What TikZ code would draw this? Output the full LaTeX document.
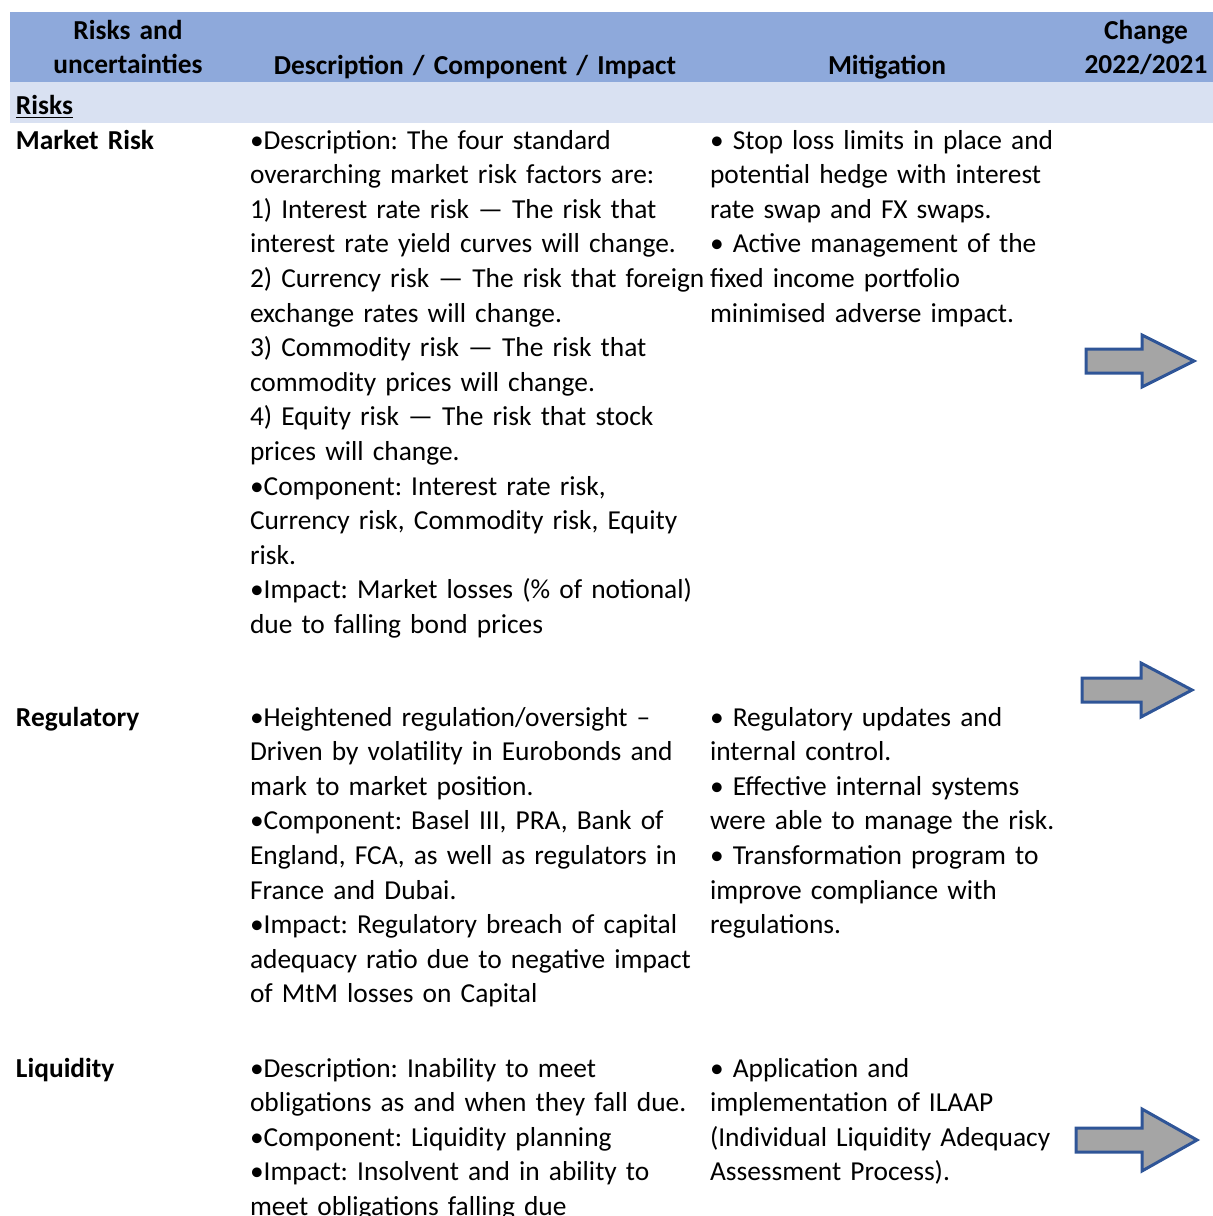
\documentclass[tikz,border=0pt]{standalone}
\usepackage{fontspec}
\setmainfont{Carlito}
\frenchspacing
\usetikzlibrary{positioning}
\definecolor{hdrblue}{HTML}{8EA9DB}
\definecolor{subblue}{HTML}{D9E1F2}
\definecolor{arrowgray}{HTML}{A5A5A5}
\definecolor{arrowedge}{RGB}{47,85,151}

\begin{document}
\begin{tikzpicture}[
    x=0.5pt, y=-0.5pt,
    every node/.style={inner sep=0pt, outer sep=0pt,
                       font=\fontsize{13.7}{17.3}\selectfont},
    hdr/.style={anchor=base, align=center, text width=220pt,
                font=\fontsize{13.7}{17.3}\selectfont\bfseries},
    rowlabel/.style={anchor=base west, align=left, text width=110pt,
                     font=\fontsize{13.7}{17.3}\selectfont\bfseries},
    cell/.style={anchor=base west, align=left, text width=240pt},
    trend/.style={fill=arrowgray, draw=arrowedge, line width=1.5pt,
                  line join=miter}
]
\useasboundingbox (0,0) rectangle (1213,1216);

% header bands
\fill[hdrblue] (10,12) rectangle (1213,82);
\fill[subblue] (10,82) rectangle (1213,123);

\node[hdr] (hRisk)   at (128,39)  {Risks and\\uncertainties};
\node[hdr] (hDesc)   at (475,74)  {Description / Component / Impact};
\node[hdr] (hMitig)  at (887,74)  {Mitigation};
\node[hdr] (hChange) at (1146,39) {Change\\2022/2021};
\node[rowlabel] (hSub) at (16,114) {\underline{Risks}};

% market risk
\node[rowlabel] (mktLabel) at (16,149) {Market Risk};
\node[cell] (mktDesc) at (250,149) {%
  •Description: The four standard\\
  overarching market risk factors are:\\
  1) Interest rate risk — The risk that\\
  interest rate yield curves will change.\\
  2) Currency risk — The risk that foreign\\
  exchange rates will change.\\
  3) Commodity risk — The risk that\\
  commodity prices will change.\\
  4) Equity risk — The risk that stock\\
  prices will change.\\
  •Component: Interest rate risk,\\
  Currency risk, Commodity risk, Equity\\
  risk.\\
  •Impact: Market losses (\% of notional)\\
  due to falling bond prices};
\node[cell] (mktMitig) at (710,149) {%
  • Stop loss limits in place and\\
  potential hedge with interest\\
  rate swap and FX swaps.\\
  • Active management of the\\
  fixed income portfolio\\
  minimised adverse impact.};

% regulatory
\node[rowlabel] (regLabel) at (16,726) {Regulatory};
\node[cell] (regDesc) at (250,726) {%
  •Heightened regulation/oversight –\\
  Driven by volatility in Eurobonds and\\
  mark to market position.\\
  •Component: Basel III, PRA, Bank of\\
  England, FCA, as well as regulators in\\
  France and Dubai.\\
  •Impact: Regulatory breach of capital\\
  adequacy ratio due to negative impact\\
  of MtM losses on Capital};
\node[cell] (regMitig) at (710,726) {%
  • Regulatory updates and\\
  internal control.\\
  • Effective internal systems\\
  were able to manage the risk.\\
  • Transformation program to\\
  improve compliance with\\
  regulations.};

% liquidity
\node[rowlabel] (liqLabel) at (16,1077) {Liquidity};
\node[cell] (liqDesc) at (250,1077) {%
  •Description: Inability to meet\\
  obligations as and when they fall due.\\
  •Component: Liquidity planning\\
  •Impact: Insolvent and in ability to\\
  meet obligations falling due};
\node[cell] (liqMitig) at (710,1077) {%
  • Application and\\
  implementation of ILAAP\\
  (Individual Liquidity Adequacy\\
  Assessment Process).};

% change arrows
\foreach \xl/\yc/\xb/\xt/\hh in {1086/361/1142/1194/26,
                                 1082/690/1141/1192/27,
                                 1076/1140/1142/1197/31}
    \draw[trend] (\xl,\yc-12) -- (\xb,\yc-12) -- (\xb,\yc-\hh)
        -- (\xt,\yc) -- (\xb,\yc+\hh) -- (\xb,\yc+12)
        -- (\xl,\yc+12) -- cycle;
\end{tikzpicture}
\end{document}
